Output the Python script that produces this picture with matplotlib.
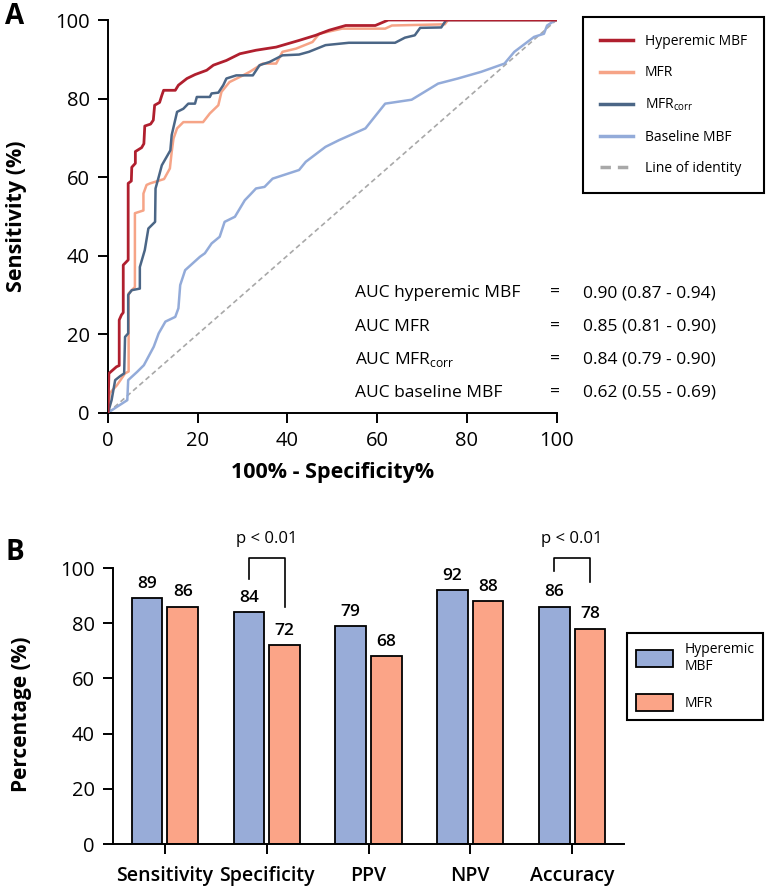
import matplotlib
matplotlib.use("Agg")
import matplotlib.pyplot as plt
import matplotlib.transforms as mtransforms
from matplotlib.patches import Patch

plt.rcParams['font.family'] = ['Open Sans', 'DejaVu Sans']
plt.rcParams['mathtext.fontset'] = 'custom'
plt.rcParams['mathtext.rm'] = 'Open Sans'

# ROC curves (100% - specificity, sensitivity)
hyp_x = [0, 0.2, 1.9, 2.5, 2.5, 3.0, 3.4, 3.4, 4.5, 4.5, 5.2, 5.3, 6.1, 6.1, 7.5, 8.0, 8.2, 9.5,
         10.1, 10.4, 11.5, 12.0, 12.4, 15.0, 15.7, 17.6, 19.4, 22, 23.5, 26.4, 29.4, 33, 37.5,
         42.6, 46.3, 49.3, 53, 59.6, 62.5, 100]
hyp_y = [0, 10, 11.7, 12, 23.6, 24.9, 25.5, 37.6, 38.9, 58.4, 59, 62.5, 63.5, 66.5, 67.5, 68.5,
         73, 73.5, 74.5, 78.3, 79, 80.8, 82.1, 82.1, 83.4, 85.1, 86.1, 87.2, 88.5, 89.7, 91.4,
         92.3, 93.1, 94.8, 96.1, 97.4, 98.6, 98.6, 100, 100]

mfr_x = [0, 0.4, 2, 3.8, 4.6, 4.6, 6, 6, 7.9, 7.9, 8.6, 9.4, 12.5, 13.8, 14.2, 14.6, 15.4, 16.8,
         21.2, 22.7, 24.6, 25.3, 27.1, 30.1, 31.6, 34.5, 37.5, 38.9, 41.9, 45.6, 47.1, 52.2,
         61.8, 63.3, 75.1, 75.8, 100]
mfr_y = [0, 5, 7, 10, 10.5, 30.4, 32, 50.8, 51.5, 55.8, 58, 58.4, 59.5, 62.2, 66.4, 69.8, 72.4,
         74, 74, 76.2, 78.3, 81.7, 84.2, 85.9, 86.8, 88.9, 88.9, 91.9, 92.7, 94.4, 96.5, 97.8,
         97.8, 98.6, 98.9, 100, 100]

corr_x = [0, 0.8, 1.6, 2.7, 3.6, 3.8, 4.5, 4.5, 5.3, 7.1, 7.1, 8.2, 9.0, 10.5, 10.6, 11.3, 12,
          13.9, 14.2, 15.4, 16.8, 17.9, 19.4, 19.8, 22.7, 23.1, 24.6, 25.7, 26.4, 28.6, 32.3,
          33.8, 36, 38.9, 42.6, 44.8, 48.5, 53.7, 64, 66.2, 68.4, 69.6, 74.3, 75.4, 100]
corr_y = [0, 3.2, 8.3, 9.3, 10, 19.3, 20.2, 30, 31.2, 31.6, 37.1, 41.4, 46.9, 48.6, 57.1, 60, 63,
          66.8, 70.7, 76.6, 77.4, 78.7, 78.7, 80.4, 80.4, 81.3, 81.5, 83.4, 85.1, 85.9, 85.9,
          88.5, 89.3, 91, 91.2, 91.9, 93.6, 94.2, 94.2, 95.5, 96.1, 98, 98.1, 100, 100]

base_x = [0, 2, 4.3, 4.5, 6.5, 8, 10.2, 11.3, 12.8, 15, 15.7, 16.1, 17.2, 20.5, 21.6, 23.1, 24.9,
          26, 28.3, 30.5, 31.6, 33, 34.9, 36.7, 42.6, 44.1, 48.5, 51.5, 57.4, 61.8, 67.7, 73.6,
          78, 83.2, 88.4, 90.6, 93.5, 95, 97.2, 97.9, 99.4, 100]
base_y = [0, 1.5, 3.2, 8.3, 10.4, 12.1, 16.8, 20.2, 23.2, 24.4, 26.6, 32.5, 36.3, 39.7, 40.6,
          43.1, 44.8, 48.6, 49.9, 54.1, 55.4, 57.1, 57.5, 59.6, 61.8, 63.9, 67.7, 69.4, 72.4,
          78.7, 79.7, 83.8, 85.1, 86.8, 88.9, 91.9, 94.4, 95.7, 96.5, 98.6, 99.7, 100]

auc_names = ["AUC hyperemic MBF", "AUC MFR", "AUC MFR$_{\\mathregular{corr}}$", "AUC baseline MBF"]
auc_vals = ["0.90 (0.87 - 0.94)", "0.85 (0.81 - 0.90)", "0.84 (0.79 - 0.90)", "0.62 (0.55 - 0.69)"]

# bar chart
metrics = ["Sensitivity", "Specificity", "PPV", "NPV", "Accuracy"]
hyperemic = [89, 84, 79, 92, 86]
mfr = [86, 72, 68, 88, 78]

c_hyp = '#b01f2e'
c_mfr = '#f6a487'
c_corr = '#4b6686'
c_base = '#93abd9'

W, H = 774, 889
fig = plt.figure(figsize=(W / 100, H / 100), dpi=100)

# ---------- panel A ----------
axA = fig.add_axes([108 / W, 1 - 412.7 / H, 448.5 / W, 392.7 / H])
axA.plot([0, 100], [0, 100], color='#a8a8a8', lw=1.2, ls=(0, (3, 2)), label='Line of identity', zorder=1)
axA.plot(base_x, base_y, color=c_base, lw=1.8, label='Baseline MBF', zorder=2)
axA.plot(mfr_x, mfr_y, color=c_mfr, lw=1.8, label='MFR', zorder=3)
axA.plot(corr_x, corr_y, color=c_corr, lw=1.8, label='MFR$_{\\mathregular{corr}}$', zorder=4)
axA.plot(hyp_x, hyp_y, color=c_hyp, lw=2.0, label='Hyperemic MBF', zorder=5)
axA.set_xlim(0, 100)
axA.set_ylim(0, 100)
axA.set_xticks(range(0, 101, 20))
axA.set_yticks(range(0, 101, 20))
for s in ['top', 'right']:
    axA.spines[s].set_visible(False)
for s in ['left', 'bottom']:
    axA.spines[s].set_linewidth(1.4)
axA.tick_params(direction='out', length=7, width=1.4, labelsize=14.5, pad=6)
axA.set_xlabel("100% - Specificity%", fontsize=15.5, fontweight='bold', labelpad=8)
axA.set_ylabel("Sensitivity (%)", fontsize=15.5, fontweight='bold')
axA.yaxis.set_label_coords(-0.18, 0.5)

handles, labels = axA.get_legend_handles_labels()
order = [4, 2, 3, 1, 0]
legA = axA.legend([handles[i] for i in order], [labels[i] for i in order],
                  loc='upper left', bbox_to_anchor=(582.7 / W, 1 - 16.7 / H),
                  bbox_transform=fig.transFigure, borderaxespad=0, fontsize=10,
                  handlelength=2.4, handletextpad=0.8, labelspacing=1.18, borderpad=1.25,
                  fancybox=False, framealpha=1, edgecolor='black')
legA.get_frame().set_linewidth(1.5)
for ln in legA.get_lines():
    ln.set_linewidth(2.5)

row_y = [293, 326.7, 359.5, 392.7]
for name, val, py in zip(auc_names, auc_vals, row_y):
    fig.text(355 / W, 1 - py / H, name, fontsize=12.5, ha='left', va='center')
    fig.text(555 / W, 1 - py / H, "=", fontsize=12.5, ha='center', va='center')
    fig.text(583 / W, 1 - py / H, val, fontsize=12.5, ha='left', va='center')

fig.text(5 / W, 1 - 17 / H, "A", fontsize=20, fontweight='bold', ha='left', va='center')

# ---------- panel B ----------
axB = fig.add_axes([113 / W, 1 - 844 / H, 511 / W, 276 / H])
xs = list(range(len(metrics)))
bw = 0.3
off = 0.175
axB.bar([x - off for x in xs], hyperemic, width=bw, color='#98acd8', edgecolor='black', lw=1.3)
axB.bar([x + off for x in xs], mfr, width=bw, color='#fba487', edgecolor='black', lw=1.3)
for x, v in zip(xs, hyperemic):
    axB.text(x - off, v + 2.3, str(v), ha='center', va='bottom', fontsize=12.5, fontweight='semibold')
for x, v in zip(xs, mfr):
    axB.text(x + off, v + 2.3, str(v), ha='center', va='bottom', fontsize=12.5, fontweight='semibold')

# significance brackets
brackets = [(1, 96, 86), (4, 99, 95)]
for i, yl, yr in brackets:
    axB.plot([i - off, i - off, i + off, i + off], [yl, 103.8, 103.8, yr], color='black', lw=1.2,
             clip_on=False)
    axB.text(i, 110.5, "p < 0.01", ha='center', va='center', fontsize=12)

axB.set_xlim(-0.51, 4.51)
axB.set_ylim(0, 100)
axB.set_xticks(xs)
axB.set_xticklabels(metrics, fontsize=14, fontweight='semibold')
# the first two labels sit a little apart from their ticks
shifts = [-9, 9, 0, 0, 0]
for lab, dx in zip(axB.get_xticklabels(), shifts):
    lab.set_transform(lab.get_transform() + mtransforms.ScaledTranslation(dx / 100, 0, fig.dpi_scale_trans))
axB.set_yticks(range(0, 101, 20))
for s in ['top', 'right']:
    axB.spines[s].set_visible(False)
for s in ['left', 'bottom']:
    axB.spines[s].set_linewidth(1.4)
axB.tick_params(direction='out', length=7, width=1.4, pad=6)
axB.tick_params(axis='y', labelsize=14.5)
axB.tick_params(axis='x', pad=9)
axB.set_ylabel("Percentage (%)", fontsize=15, fontweight='bold')
axB.yaxis.set_label_coords(-0.158, 0.47)

legB = axB.legend([Patch(facecolor='#98acd8', edgecolor='black', lw=1.3),
                   Patch(facecolor='#fba487', edgecolor='black', lw=1.3)],
                  ["Hyperemic\nMBF", "MFR"],
                  loc='upper left', bbox_to_anchor=(626.5 / W, 1 - 632.7 / H),
                  bbox_transform=fig.transFigure, borderaxespad=0, fontsize=10,
                  handlelength=2.7, handleheight=1.45, handletextpad=0.8, labelspacing=1.45,
                  borderpad=0.65, fancybox=False, framealpha=1, edgecolor='black')
legB.get_frame().set_linewidth(1.5)

fig.text(5 / W, 1 - 553 / H, "B", fontsize=20, fontweight='bold', ha='left', va='center')

fig.savefig("out.png", dpi=100)
